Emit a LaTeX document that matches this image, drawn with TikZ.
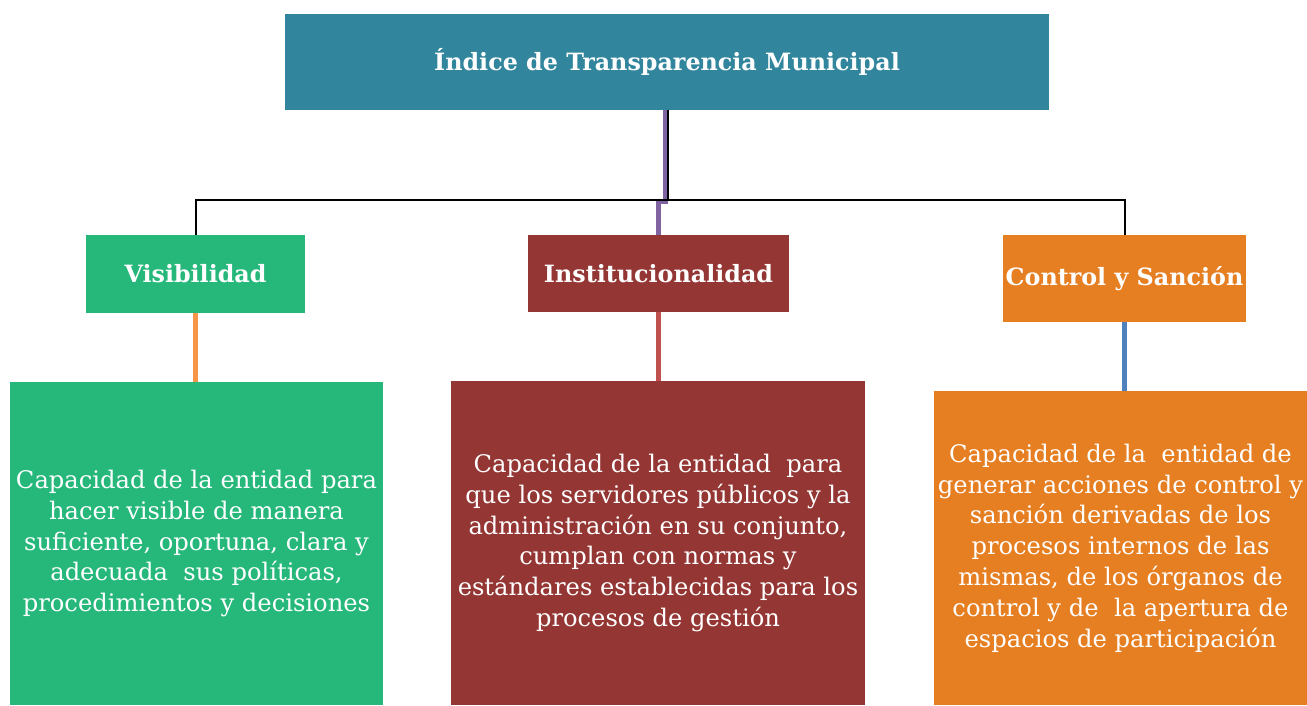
\documentclass[tikz,border=0pt]{standalone}
\usepackage{fontspec}
\setmainfont{DejaVu Serif}
\definecolor{cteal}{HTML}{31859C}
\definecolor{cgreen}{HTML}{26B87B}
\definecolor{cred}{HTML}{943634}
\definecolor{corange}{HTML}{E67E22}
\definecolor{lpurple}{HTML}{8064A2}
\definecolor{lorange}{HTML}{F79646}
\definecolor{lred}{HTML}{C0504D}
\definecolor{lblue}{HTML}{4F81BD}
\begin{document}
\begin{tikzpicture}[x=1pt,y=-1pt,
  box/.style={rectangle,inner sep=0pt,text=white,align=center},
  headbox/.style={box,font=\fontsize{23.8}{30}\selectfont\bfseries},
  descbox/.style={box,font=\fontsize{24.2}{30.8}\selectfont},
  blackline/.style={draw=black,line width=2pt},
  colline/.style={line width=5pt}]
\useasboundingbox[fill=white] (0,0) rectangle (1307,705);
\node[headbox,fill=cteal,minimum width=764pt,minimum height=96pt] (top) at (667,62) {Índice de Transparencia Municipal};
\node[headbox,fill=cgreen,minimum width=219pt,minimum height=78pt] (vis) at (195.5,274) {Visibilidad};
\node[headbox,fill=cred,minimum width=261pt,minimum height=77pt] (inst) at (658.5,273.5) {Institucionalidad};
\node[headbox,fill=corange,minimum width=243pt,minimum height=87pt] (ctrl) at (1124.5,278.5) {Control y Sanción};
\node[descbox,fill=cgreen,minimum width=373pt,minimum height=323pt] (bl) at (196.5,543.5) {Capacidad de la entidad para\\hacer visible de manera\\suficiente, oportuna, clara y\\adecuada\ \ sus políticas,\\procedimientos y decisiones};
\node[descbox,fill=cred,minimum width=414pt,minimum height=324pt] (bm) at (658,543) {Capacidad de la entidad\ \ para\\que los servidores públicos y la\\administración en su conjunto,\\cumplan con normas y\\estándares establecidas para los\\procesos de gestión};
\node[descbox,fill=corange,minimum width=373pt,minimum height=314pt] (br) at (1120.5,548) {Capacidad de la\ \ entidad de\\generar acciones de control y\\sanción derivadas de los\\procesos internos de las\\mismas, de los órganos de\\control y de\ \ la apertura de\\espacios de participación};
\coordinate (bar) at (0,200);
\draw[colline,draw=lpurple] ([xshift=-2pt]top.south) -- ++(0,91) -| (inst.north);
\draw[blackline] ([xshift=1pt]top.south) -- ([xshift=1pt]top.south |- bar);
\draw[blackline] (vis.north) |- (bar -| ctrl.north) -- (ctrl.north);
\draw[colline,draw=lorange] (vis.south) -- (vis.south |- bl.north);
\draw[colline,draw=lred] (inst.south) -- (inst.south |- bm.north);
\draw[colline,draw=lblue] (ctrl.south) -- (ctrl.south |- br.north);
\end{tikzpicture}
\end{document}
